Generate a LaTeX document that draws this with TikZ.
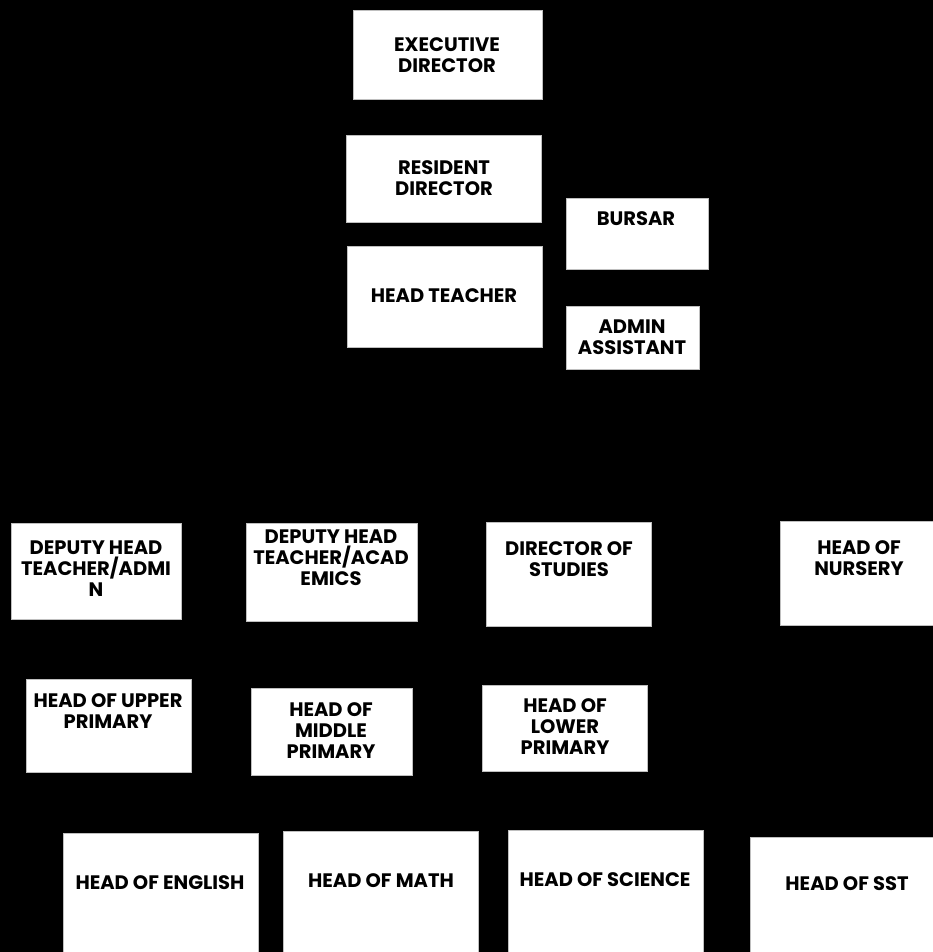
\documentclass[tikz,border=0pt]{standalone}
\usepackage{fontspec}
\setmainfont{Poppins}
\begin{document}
\begin{tikzpicture}[x=1pt,y=-1pt,
  box/.style={fill=white,draw=gray!50,line width=0.8pt,inner sep=0pt},
  lbl/.style={font=\fontsize{19.5}{21}\selectfont\bfseries,text=black,align=center,inner sep=0pt}]
\fill[black] (0,0) rectangle (933,952);
\useasboundingbox (0,0) rectangle (933,952);
% boxes
\node[box,minimum width=189pt,minimum height=89pt] (ed) at (447.5,54.5) {};
\node[box,minimum width=195pt,minimum height=87pt] (rd) at (443.5,178.5) {};
\node[box,minimum width=195pt,minimum height=101pt] (ht) at (444.5,296.5) {};
\node[box,minimum width=142pt,minimum height=71pt] (bu) at (637,233.5) {};
\node[box,minimum width=133pt,minimum height=63pt] (aa) at (632.5,337.5) {};
\node[box,minimum width=170pt,minimum height=96pt] (dha) at (96,571) {};
\node[box,minimum width=171pt,minimum height=98pt] (dhc) at (331.5,572) {};
\node[box,minimum width=165pt,minimum height=104pt] (ds) at (568.5,574) {};
\node[box,minimum width=157pt,minimum height=104pt] (hn) at (858.5,573) {};
\node[box,minimum width=165pt,minimum height=93pt] (hu) at (108.5,725.5) {};
\node[box,minimum width=161pt,minimum height=87pt] (hm) at (331.5,731.5) {};
\node[box,minimum width=165pt,minimum height=86pt] (hl) at (564.5,728) {};
\node[box,minimum width=195pt,minimum height=124pt] (he) at (160.5,895) {};
\node[box,minimum width=195pt,minimum height=126pt] (hma) at (380.5,894) {};
\node[box,minimum width=195pt,minimum height=127pt] (hs) at (605.5,893.5) {};
\node[box,minimum width=185pt,minimum height=120pt] (hsst) at (842.5,897) {};
% labels
\node[lbl] (ed-t) at (447,55) {EXECUTIVE\\DIRECTOR};
\node[lbl] (rd-t) at (444,178) {RESIDENT\\DIRECTOR};
\node[lbl] (ht-t) at (444,296) {HEAD TEACHER};
\node[lbl] (bu-t) at (636,219) {BURSAR};
\node[lbl] (aa-t) at (632,337) {ADMIN\\ASSISTANT};
\node[lbl] (dha-t) at (96,569) {DEPUTY HEAD\\TEACHER/ADMI\\N};
\node[lbl] (dhc-t) at (331,558) {DEPUTY HEAD\\TEACHER/ACAD\\EMICS};
\node[lbl] (ds-t) at (569,559) {DIRECTOR OF\\STUDIES};
\node[lbl] (hn-t) at (859,558) {HEAD OF\\NURSERY};
\node[lbl] (hu-t) at (108,711) {HEAD OF UPPER\\PRIMARY};
\node[lbl] (hm-t) at (331,731) {HEAD OF\\MIDDLE\\PRIMARY};
\node[lbl] (hl-t) at (565,727) {HEAD OF\\LOWER\\PRIMARY};
\node[lbl] (he-t) at (160,883) {HEAD OF ENGLISH};
\node[lbl] (hma-t) at (381,881) {HEAD OF MATH};
\node[lbl] (hs-t) at (605,880) {HEAD OF SCIENCE};
\node[lbl] (hsst-t) at (847,884) {HEAD OF SST};
\end{tikzpicture}
\end{document}
